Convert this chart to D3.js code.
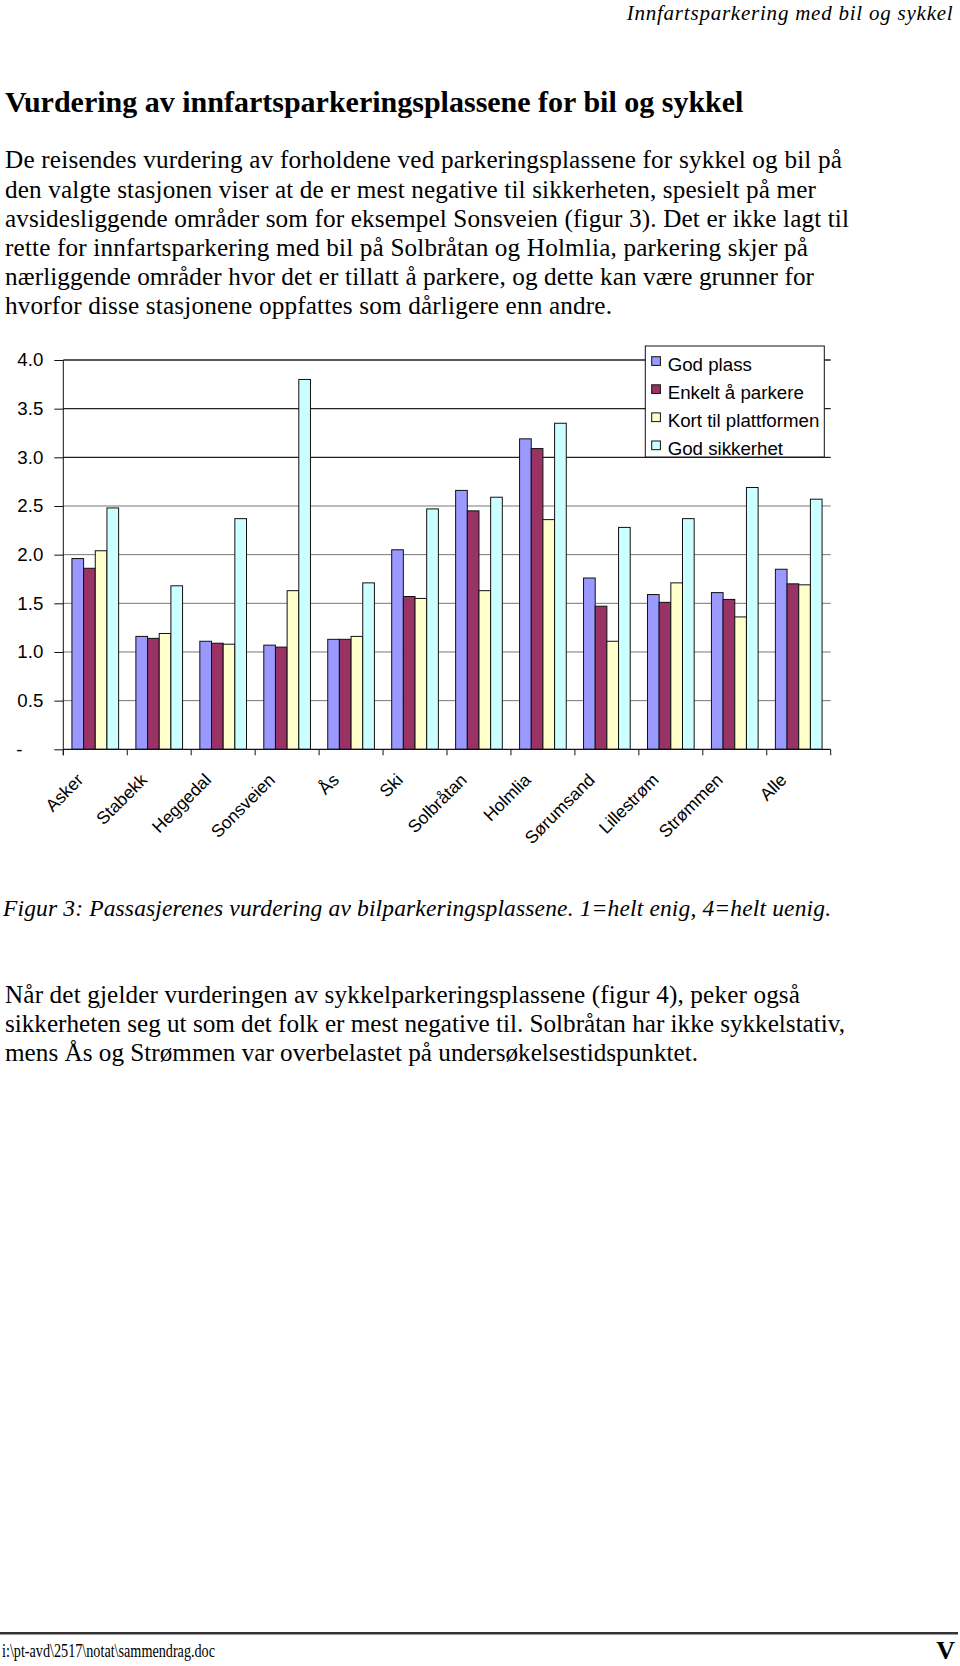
<!DOCTYPE html>
<html>
<head>
<meta charset="utf-8">
<script src="https://cdn.jsdelivr.net/npm/d3@7"></script>
<style>
  body { margin: 0; background: #fff; }
  svg { display: block; }
</style>
</head>
<body>
<div id="page"></div>
<script>
// chart data (1 = helt enig, 4 = helt uenig)
var stations = ["Asker", "Stabekk", "Heggedal", "Sonsveien", "Ås", "Ski", "Solbråtan",
                "Holmlia", "Sørumsand", "Lillestrøm", "Strømmen", "Alle"];
var seriesNames = ["God plass", "Enkelt å parkere", "Kort til plattformen", "God sikkerhet"];
var godPlass      = [1.96, 1.16, 1.11, 1.07, 1.13, 2.05, 2.66, 3.19, 1.76, 1.59, 1.61, 1.85];
var enkeltParkere = [1.86, 1.14, 1.09, 1.05, 1.13, 1.57, 2.45, 3.09, 1.47, 1.51, 1.54, 1.70];
var kortPlattform = [2.04, 1.19, 1.08, 1.63, 1.16, 1.55, 1.63, 2.36, 1.11, 1.71, 1.36, 1.69];
var godSikkerhet  = [2.48, 1.68, 2.37, 3.80, 1.71, 2.47, 2.59, 3.35, 2.28, 2.37, 2.69, 2.57];
var yTicks = [0, 0.5, 1, 1.5, 2, 2.5, 3, 3.5, 4];

// page text
var headerText = "Innfartsparkering med bil og sykkel";
var titleText = "Vurdering av innfartsparkeringsplassene for bil og sykkel";
var para1 = [
  "De reisendes vurdering av forholdene ved parkeringsplassene for sykkel og bil på",
  "den valgte stasjonen viser at de er mest negative til sikkerheten, spesielt på mer",
  "avsidesliggende områder som for eksempel Sonsveien (figur 3). Det er ikke lagt til",
  "rette for innfartsparkering med bil på Solbråtan og Holmlia, parkering skjer på",
  "nærliggende områder hvor det er tillatt å parkere, og dette kan være grunner for",
  "hvorfor disse stasjonene oppfattes som dårligere enn andre."
];
var para1Widths = [837, 811, 844, 803, 809, 607];
var captionText = "Figur 3: Passasjerenes vurdering av bilparkeringsplassene. 1=helt enig, 4=helt uenig.";
var para2 = [
  "Når det gjelder vurderingen av sykkelparkeringsplassene (figur 4), peker også",
  "sikkerheten seg ut som det folk er mest negative til. Solbråtan har ikke sykkelstativ,",
  "mens Ås og Strømmen var overbelastet på undersøkelsestidspunktet."
];
var para2Widths = [795, 840, 693];
var footerText = "i:\\pt-avd\\2517\\notat\\sammendrag.doc";
var pageNo = "V";

var colors = ["#9999ff", "#993366", "#ffffcc", "#ccffff"];
var serif = "'Liberation Serif', 'Times New Roman', serif";
var sans = "'Liberation Sans', Arial, sans-serif";

var svg = d3.select("#page").append("svg")
    .attr("width", 960)
    .attr("height", 1666);

function addLine(txt, x, y, opts){
    var t = svg.append("text")
        .attr("x", x)
        .attr("y", y)
        .style("font-family", serif)
        .style("font-size", opts.size + "px")
        .text(txt);
    if(opts.italic) t.style("font-style", "italic");
    if(opts.bold) t.style("font-weight", "bold");
    if(opts.anchor) t.attr("text-anchor", opts.anchor);
    if(opts.width){
        t.attr("textLength", opts.width)
         .attr("lengthAdjust", opts.squeeze ? "spacingAndGlyphs" : "spacing");
    }
    return t;
}

function drawText(){
    addLine(headerText, 952.7, 19.5, {size: 21, italic: true, anchor: "end", width: 326});
    addLine(titleText, 5, 112.3, {size: 30, bold: true});
    para1.forEach(function(l, i){
        addLine(l, 5, 168.3 + i * 29.2, {size: 25.2, width: para1Widths[i]});
    });
    addLine(captionText, 3, 916, {size: 23.5, italic: true, width: 828});
    para2.forEach(function(l, i){
        addLine(l, 5, 1002.7 + i * 29, {size: 25.2, width: para2Widths[i]});
    });
    svg.append("line")
        .attr("x1", 0).attr("x2", 958)
        .attr("y1", 1633.3).attr("y2", 1633.3)
        .attr("stroke", "#333")
        .attr("stroke-width", 2.5);
    addLine(footerText, 2, 1656.7, {size: 18, width: 213, squeeze: true});
    addLine(pageNo, 955, 1659, {size: 26, bold: true, anchor: "end"});
}

function drawChart(){
    var left = 63.3, right = 830.7, top = 360, bottom = 749.3;
    var data = [godPlass, enkeltParkere, kortPlattform, godSikkerhet];

    var x = d3.scaleBand().domain(stations).range([left, right]).padding(0);
    var x1 = d3.scaleBand().domain(d3.range(seriesNames.length))
        .range([0, x.bandwidth()]).paddingInner(0).paddingOuter(0.74);
    var y = d3.scaleLinear().domain([0, 4]).range([bottom, top]);

    var chart = svg.append("g").attr("class", "chart");

    // gridlines - the upper ones come out darker in the original
    chart.append("g").selectAll("line")
        .data(yTicks.filter(function(d){ return d > 0; }))
        .enter().append("line")
        .attr("x1", left).attr("x2", right)
        .attr("y1", function(d){ return y(d); })
        .attr("y2", function(d){ return y(d); })
        .attr("stroke", function(d){ return d >= 3 ? "#222" : "#777"; })
        .attr("stroke-width", function(d){ return d >= 3 ? 1.4 : 1; });

    // bars
    var groups = chart.append("g").selectAll("g")
        .data(stations)
        .enter().append("g")
        .attr("transform", function(d){ return "translate(" + x(d) + ",0)"; });
    groups.selectAll("rect")
        .data(function(d, i){
            return data.map(function(s, k){ return {k: k, v: s[i]}; });
        })
        .enter().append("rect")
        .attr("x", function(d){ return x1(d.k); })
        .attr("width", x1.bandwidth())
        .attr("y", function(d){ return y(d.v); })
        .attr("height", function(d){ return y(0) - y(d.v); })
        .attr("fill", function(d){ return colors[d.k]; })
        .attr("stroke", "#111")
        .attr("stroke-width", 1);

    // y axis
    var yAxis = d3.axisLeft(y)
        .tickValues(yTicks)
        .tickSize(9)
        .tickPadding(11)
        .tickFormat(function(d){ return d === 0 ? "-\u2007\u2007" : d3.format(".1f")(d); });
    var ya = chart.append("g")
        .attr("transform", "translate(" + left + ",0)")
        .call(yAxis);
    ya.select(".domain").remove();
    ya.selectAll(".tick line").attr("stroke", "#111");
    ya.selectAll("text")
        .style("font-family", sans)
        .style("font-size", "18.7px")
        .attr("fill", "#000");
    chart.append("line")
        .attr("x1", left).attr("x2", left)
        .attr("y1", top).attr("y2", bottom + 6)
        .attr("stroke", "#111");

    // x axis, ticks between categories like Excel does
    chart.append("line")
        .attr("x1", left).attr("x2", right)
        .attr("y1", bottom).attr("y2", bottom)
        .attr("stroke", "#111")
        .attr("stroke-width", 1.2);
    var bounds = stations.map(function(d){ return x(d); }).concat([right]);
    chart.append("g").selectAll("line")
        .data(bounds)
        .enter().append("line")
        .attr("x1", function(d){ return d; })
        .attr("x2", function(d){ return d; })
        .attr("y1", bottom).attr("y2", bottom + 6)
        .attr("stroke", "#111");

    chart.append("g").selectAll("text")
        .data(stations)
        .enter().append("text")
        .attr("transform", function(d){
            return "translate(" + (x(d) + x.bandwidth() / 2 - 11) + "," + 781 + ") rotate(-45)";
        })
        .attr("text-anchor", "end")
        .style("font-family", sans)
        .style("font-size", "17.5px")
        .text(function(d){ return d; });

    // legend
    var lg = chart.append("g").attr("transform", "translate(645.3,346)");
    lg.append("rect")
        .attr("width", 179).attr("height", 111)
        .attr("fill", "#fff")
        .attr("stroke", "#111");
    var items = lg.selectAll("g.item")
        .data(seriesNames)
        .enter().append("g")
        .attr("class", "item")
        .attr("transform", function(d, i){ return "translate(0," + (i * 28.1) + ")"; });
    items.append("rect")
        .attr("x", 6.4).attr("y", 10.7)
        .attr("width", 8.7).attr("height", 8.7)
        .attr("fill", function(d, i){ return colors[i]; })
        .attr("stroke", "#111");
    items.append("text")
        .attr("x", 22.4).attr("y", 24.7)
        .style("font-family", sans)
        .style("font-size", "18.7px")
        .text(function(d){ return d; });
}

drawText();
drawChart();
</script>
</body>
</html>
